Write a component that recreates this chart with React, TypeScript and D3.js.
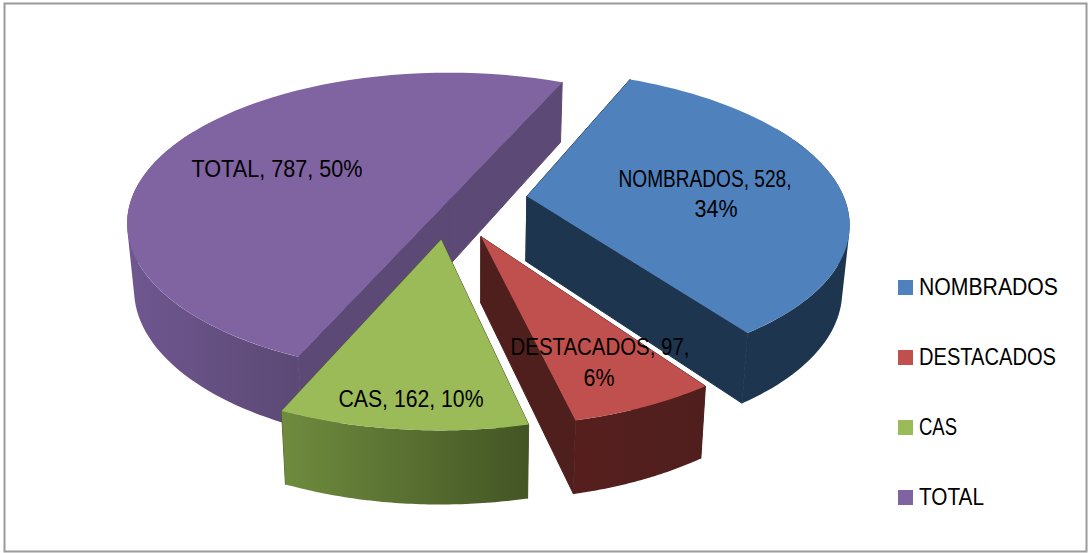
import React from 'react';
import * as d3 from 'd3';

const categories = ['NOMBRADOS', 'DESTACADOS', 'CAS', 'TOTAL'];
const values = [528, 97, 162, 787];

const topColors = ['#4f81bd', '#c0504d', '#9bbb59', '#8064a2'];
const cutColors = ['#1e3550', '#4f1f1d', '#4a5e2a', '#5c4975'];
const wallColors = [['#1e3550', '#1e3550'], ['#561f1e', '#4f1f1d'], ['#6f8c3e', '#435524'], ['#6f5790', '#5c4975']];
const explodeX = [0.247, 0.236, 0.247, 0];
const explodeY = [0.259, 0.262, 0.259, 0];

const width = 1089;
const height = 553;
const cx = 449;
const cy = 200;
const R = 318;
const tilt = 0.463;
const persp = 0.156;
const depth = 65;
const vanishX = 477;
const rotation = (24 * Math.PI) / 180;

const pct = d3.format('.0%');
const total = d3.sum(values);
const arcs = d3.pie<number>().sort(null).startAngle(rotation).endAngle(rotation + 2 * Math.PI)(values);

// unit disc -> screen. z = 0 is the top face, z = 1 the bottom one
function project(u: number, v: number, z: number): [number, number] {
  const s = 1 / (1 - persp * v);
  const x = cx + R * u * s;
  return [x - (x - vanishX) * 0.02 * z, cy + R * tilt * v * s + depth * Math.pow(s, 0.6) * z];
}

const line = d3.line();

function rimPoint(a: number, off: [number, number], z: number) {
  return project(off[0] + Math.sin(a), off[1] - Math.cos(a), z);
}

function rim(a0: number, a1: number, off: [number, number], z: number) {
  const n = 60;
  return d3.range(n + 1).map((i) => rimPoint(a0 + ((a1 - a0) * i) / n, off, z));
}

// one path of same-wound polygons paints as their union, with no seams and no holes
function union(polys: [number, number][][]) {
  return polys
    .map((p) => line(d3.polygonArea(p) < 0 ? [...p].reverse() : p) + 'Z')
    .join('');
}

const legendY = [288, 358, 428, 498];

const labelLines = [
  [`${categories[0]}, ${values[0]},`, pct(values[0] / total)],
  [`${categories[1]}, ${values[1]},`, pct(values[1] / total)],
  [`${categories[2]}, ${values[2]}, ${pct(values[2] / total)}`],
  [`${categories[3]}, ${values[3]}, ${pct(values[3] / total)}`],
];
// centre x, baseline y and drawn width per line of each data label
const labelPos = [
  [[705, 187, 173], [716, 217, 43]],
  [[600, 355, 179], [599, 386, 31]],
  [[411, 407, 145]],
  [[277, 177, 171]],
];
const legendWidth = [139, 137, 38, 65];

function Slice({ i }: { i: number }) {
  const arc = arcs[i];
  const mid = (arc.startAngle + arc.endAngle) / 2;
  const off: [number, number] = [explodeX[i] * Math.sin(mid), -explodeY[i] * Math.cos(mid)];
  const apex = (z: number) => project(off[0], off[1], z);

  const quad = (a: number) => [apex(0), rimPoint(a, off, 0), rimPoint(a, off, 1), apex(1)];

  // the back part of the wall ends up hidden under the top face
  const wallStart = Math.max(arc.startAngle, (60 * Math.PI) / 180);
  const wallEnd = Math.min(arc.endAngle, (300 * Math.PI) / 180);
  const topRim = rim(wallStart, wallEnd, off, 0);
  const botRim = rim(wallStart, wallEnd, off, 1);
  const xs = topRim.map((p) => p[0]);
  const wallQuads = d3.pairs(d3.range(topRim.length)).map(([a, b]) => [topRim[a], topRim[b], botRim[b], botRim[a]]);
  const top = line([apex(0), ...rim(arc.startAngle, arc.endAngle, off, 0)]) + 'Z';

  return (
    <g>
      <defs>
        <linearGradient
          id={`wall${i}`}
          gradientUnits="userSpaceOnUse"
          x1={d3.min(xs)}
          x2={d3.max(xs)}
          y1={0}
          y2={0}
        >
          <stop offset="0" stopColor={wallColors[i][0]} />
          <stop offset="1" stopColor={wallColors[i][1]} />
        </linearGradient>
      </defs>
      <path d={union([quad(arc.startAngle), quad(arc.endAngle)])} fill={cutColors[i]} stroke={cutColors[i]} strokeWidth={1} />
      <path d={union(wallQuads)} fill={`url(#wall${i})`} />
      <path d={top} fill={topColors[i]} />
    </g>
  );
}

export default function App() {
  return (
    <svg
      width={width}
      height={height}
      style={{ position: 'absolute', left: 0, top: 0, fontFamily: '"Liberation Sans", Arial, sans-serif' }}
    >
      <rect x={0} y={0} width={width} height={height} fill="#fff" />
      <rect x={4.5} y={3.5} width={1082} height={548} fill="#fff" stroke="#9a9a9a" strokeWidth={2} />

      {[3, 0, 1, 2].map((i) => (
        <Slice key={i} i={i} />
      ))}

      {labelLines.map((lines, i) =>
        lines.map((t, j) => (
          <text
            key={`${i}-${j}`}
            x={labelPos[i][j][0]}
            y={labelPos[i][j][1]}
            textLength={labelPos[i][j][2]}
            lengthAdjust="spacingAndGlyphs"
            textAnchor="middle"
            fontSize={23}
            fill="#000"
          >
            {t}
          </text>
        ))
      )}

      {categories.map((c, i) => (
        <g key={c}>
          <rect x={898} y={legendY[i] - 8} width={15} height={15} fill={topColors[i]} />
          <text
            x={919}
            y={legendY[i] + 7}
            textLength={legendWidth[i]}
            lengthAdjust="spacingAndGlyphs"
            fontSize={23}
            fill="#000"
          >
            {c}
          </text>
        </g>
      ))}
    </svg>
  );
}
